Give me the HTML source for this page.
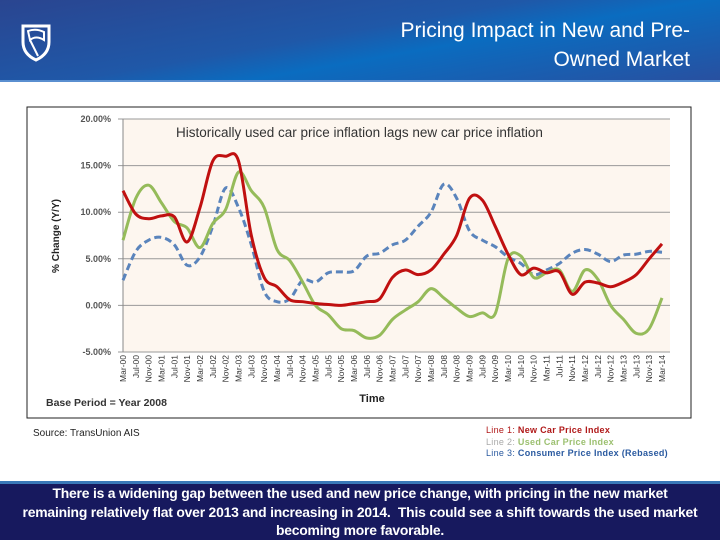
<!DOCTYPE html>
<html><head><meta charset="utf-8"><style>
body{margin:0;width:720px;height:540px;overflow:hidden;background:#fff;font-family:"Liberation Sans",sans-serif;position:relative}
#hdr{position:absolute;left:0;top:0;width:720px;height:80px;background:linear-gradient(170deg,#2a4590 0%,#1f58a8 45%,#0a6cc0 60%,#2850a0 100%);border-bottom:2px solid #5a8fd0}
#title{position:absolute;right:30px;top:16px;color:#fff;font-size:21px;text-align:right;line-height:29px}
#foot{position:absolute;left:0;top:481px;width:720px;height:56px;background:#17195e;border-top:3px solid #3a78b8;color:#fff;font-size:13.9px;font-weight:bold;text-align:center;line-height:18.5px;white-space:nowrap;letter-spacing:-0.2px}
</style></head><body>
<div id="hdr">
<svg style="position:absolute;left:20px;top:22px" width="32" height="40"><path d="M3,4 L29,4 L29,20 Q29,32 16,38 Q3,32 3,20 Z" fill="none" stroke="#fff" stroke-width="3"/><path d="M8,9 Q16,6 24,10 L24,18 Q16,13 10,18 Z M10,18 L18,34" fill="none" stroke="#fff" stroke-width="2"/></svg>
<div id="title">Pricing Impact in New and Pre-<br>Owned Market</div>
</div>
<svg id="chart" width="720" height="470" style="position:absolute;left:0;top:0"></svg>
<div style="position:absolute;left:33px;top:428px;font-size:10px;color:#222">Source: TransUnion AIS</div>
<div style="position:absolute;left:486px;top:425px;font-size:9px;line-height:11.5px;font-weight:bold;letter-spacing:0.3px">
<div style="color:#b01818"><span style="font-weight:normal">Line 1:</span> New Car Price Index</div>
<div style="color:#9cc070"><span style="font-weight:normal;color:#aaa">Line 2:</span> Used Car Price Index</div>
<div style="color:#2a5aa0"><span style="font-weight:normal">Line 3:</span> Consumer Price Index (Rebased)</div>
</div>
<div id="foot">There is a widening gap between the used and new price change, with pricing in the new market<br>remaining relatively flat over 2013 and increasing in 2014.&nbsp; This could see a shift towards the used market<br>becoming more favorable.</div>
<script>
const categories=[];
const months=["Mar","Jul","Nov"];
for(let y=0;y<=14;y++){for(const m of months){if(y==14&&m!="Mar")continue;categories.push(m+"-"+String(y).padStart(2,"0"));}}
const yTicks=[20,15,10,5,0,-5];
const newCar=[12.3,9.8,9.3,9.6,9.5,6.8,10.5,15.5,16.0,15.5,7.5,3.0,2.0,0.6,0.4,0.2,0.1,0.0,0.2,0.4,0.7,3.0,3.8,3.3,3.8,5.5,7.5,11.5,11.3,8.5,5.5,3.3,4.0,3.5,3.6,1.2,2.5,2.4,2.0,2.5,3.3,5.0,6.6];
const usedCar=[7.0,11.5,12.9,11.0,9.0,8.3,6.2,8.8,10.3,14.3,12.3,10.5,6.0,4.8,2.5,0.0,-1.0,-2.5,-2.7,-3.5,-3.2,-1.5,-0.5,0.4,1.8,0.8,-0.3,-1.2,-0.8,-0.9,5.0,5.3,3.0,3.5,3.8,1.5,3.8,2.8,0.0,-1.5,-3.0,-2.5,0.8];
const cpi=[2.7,5.8,7.0,7.3,6.5,4.3,5.2,8.5,12.6,10.5,6.5,1.5,0.4,0.7,2.7,2.5,3.5,3.6,3.7,5.3,5.6,6.5,7.0,8.5,10.0,13.0,11.5,8.0,7.0,6.3,5.2,4.5,3.3,3.8,4.5,5.6,6.0,5.5,4.7,5.4,5.5,5.8,5.7];
const svg=document.getElementById('chart');
const NS="http://www.w3.org/2000/svg";
const X0=123,X1=662,Y20=119,Ym5=352;
const xs=i=>X0+(X1-X0)*i/(categories.length-1);
const ys=v=>Y20+(20-v)*(Ym5-Y20)/25;
function mk(t,a,p){const e=document.createElementNS(NS,t);for(const k in a)e.setAttribute(k,a[k]);(p||svg).appendChild(e);return e;}
const box=mk('rect',{x:27,y:107,width:664,height:311,fill:'#fff',stroke:'#222','stroke-width':1});


const pa=mk('rect',{x:X0,y:Y20,width:X1-X0+8,height:Ym5-Y20,fill:'#fdf6ef'});


yTicks.forEach(v=>{
 const l=mk('line',{x1:X0-5,x2:X1+8,y1:ys(v),y2:ys(v),stroke:'#999','stroke-width':1});
 
 
 const t=mk('text',{x:X0-12,y:ys(v)+3,'text-anchor':'end','font-size':9,'font-weight':'bold',fill:'#555'});
 t.textContent=v.toFixed(2)+"%";
 
 
});
mk('line',{x1:X0,x2:X0,y1:Y20,y2:Ym5,stroke:'#888'});
categories.forEach((c,i)=>{
 const t=mk('text',{transform:`translate(${xs(i)+3},${Ym5+3}) rotate(-90)`,'text-anchor':'end','font-size':8.5,fill:'#333'});
 t.textContent=c;
 
 
});
function path(vals){let p=[];vals.forEach((v,i)=>p.push([xs(i),ys(v)]));let d=`M${p[0][0]},${p[0][1]}`;
 for(let i=0;i<p.length-1;i++){const a=p[i-1]||p[i],b=p[i],c=p[i+1],e=p[i+2]||c;
 d+=` C${b[0]+(c[0]-a[0])/6},${b[1]+(c[1]-a[1])/6} ${c[0]-(e[0]-b[0])/6},${c[1]-(e[1]-b[1])/6} ${c[0]},${c[1]}`;}return d;}
const l3=mk('path',{d:path(cpi),fill:'none',stroke:'#5a84bc','stroke-width':3,'stroke-dasharray':'7,4'});


const l2=mk('path',{d:path(usedCar),fill:'none',stroke:'#95bb5a','stroke-width':3});


const l1=mk('path',{d:path(newCar),fill:'none',stroke:'#c01010','stroke-width':3});


const ct=mk('text',{x:176,y:137,'font-size':13.5,fill:'#333'});
ct.textContent="Historically used  car price inflation lags new car price inflation";


const yt=mk('text',{transform:'translate(59,236) rotate(-90)','text-anchor':'middle','font-size':10,'font-weight':'bold',fill:'#222'});
yt.textContent="% Change (Y/Y)";


const xt=mk('text',{x:372,y:402,'text-anchor':'middle','font-size':11,'font-weight':'bold',fill:'#222'});
xt.textContent="Time";


const bp=mk('text',{x:46,y:406,'font-size':10.5,'font-weight':'bold',fill:'#333'});
bp.textContent="Base Period = Year 2008";


</script>
</body></html>
